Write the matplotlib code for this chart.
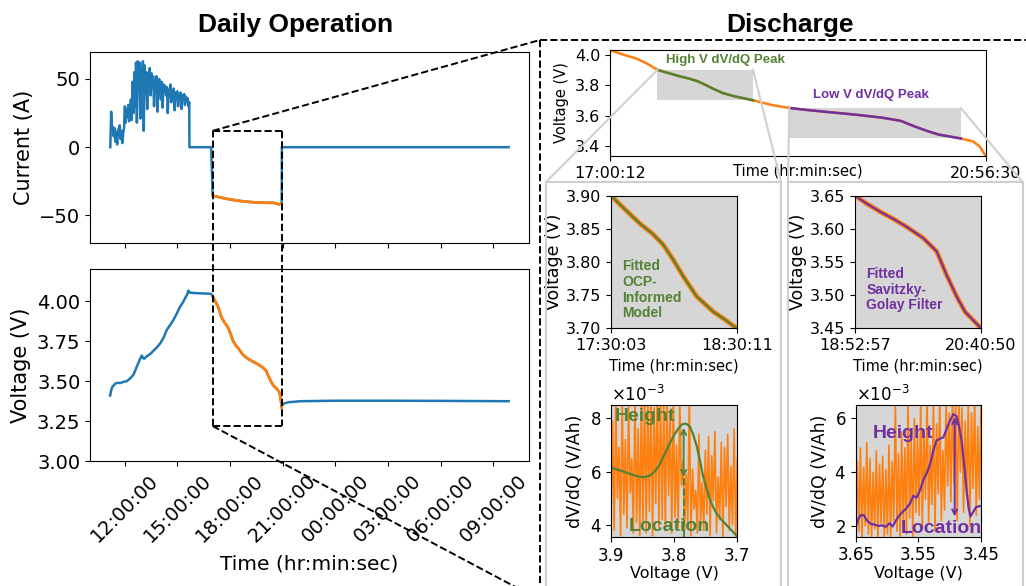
import numpy as np
import matplotlib
matplotlib.use('Agg')
import matplotlib.pyplot as plt
import matplotlib.dates as mdates
from matplotlib.lines import Line2D
from matplotlib.ticker import MultipleLocator, FormatStrFormatter
from datetime import datetime, timedelta

W, H = 1026, 586
BLUE = '#1f77b4'
ORANGE = '#ff7f0e'
GREEN = '#548235'
PURPLE = '#7030a0'
GREY = '#d6d6d6'
BOLD = ['Liberation Sans', 'DejaVu Sans']

# ---------------- data (hours since midnight of day 1) ----------------
# charging current, ~3 min samples from 11:10 to 15:40
chg_start, chg_end = 11.17, 15.67
chg_current = [0, 26, 12, 15, 8, 14, 4, 11, 2, 13, 9, 16, 6, 12, 3, 10, 14,
               30, 18, 28, 22, 31, 19, 27, 35, 20,
               48, 25, 55, 30, 62, 18, 63, 42, 62, 21,
               58, 50, 63, 12, 60, 45, 55, 28, 52,
               47, 58, 38, 54, 44, 52, 30, 49, 45, 52, 26, 47, 50, 44,
               35, 48, 29, 46, 41, 45, 38, 44, 25, 42, 39, 46, 33, 41,
               37, 43, 27, 40, 38, 41, 30, 39, 36, 40, 28, 38, 35, 39, 31,
               37, 34, 36, 30, 33]
rest1_hours = [15.68, 16.92]
rest1_current = [0, 0]
dis_cur_hours = [17.0033, 17.5, 18.0, 18.5, 19.0, 19.5, 20.0, 20.5, 20.7, 20.8, 20.9, 20.9417]
dis_current = [-35.5, -37.0, -38.3, -39.3, -40.0, -40.5, -40.7, -40.8, -41.5, -42.0, -41.3, -41.5]
rest2_hours = [20.95, 33.88]
rest2_current = [0, 0]

chg_v_hours = [11.16, 11.26, 11.45, 11.6, 11.73, 11.9, 12.11, 12.30, 12.49, 12.68, 12.87,
               12.97, 13.03, 13.10, 13.25, 13.45, 13.63, 13.82, 14.01, 14.2, 14.39, 14.58,
               14.76, 14.95, 15.15, 15.30, 15.43, 15.55, 15.62, 15.71, 16.0, 16.28, 16.6, 16.91]
chg_voltage = [3.41, 3.46, 3.485, 3.49, 3.488, 3.495, 3.50, 3.517, 3.54, 3.59, 3.64,
               3.66, 3.645, 3.64, 3.655, 3.67, 3.69, 3.71, 3.735, 3.77, 3.82, 3.85,
               3.88, 3.92, 3.965, 3.99, 4.017, 4.04, 4.065, 4.052, 4.05, 4.048, 4.047, 4.045]

dis_hours = [17.0033, 17.14, 17.28, 17.40, 17.5008, 17.62, 17.731, 17.83, 17.918, 17.998,
             18.078, 18.184, 18.317, 18.41, 18.5031, 18.71, 18.8825, 19.05, 19.239, 19.43,
             19.620, 19.857, 20.048, 20.191, 20.333, 20.452, 20.571, 20.6806, 20.81, 20.88,
             20.9417]
dis_voltage = [4.030, 4.000, 3.974, 3.938, 3.900, 3.878, 3.858, 3.843, 3.826, 3.803,
               3.778, 3.748, 3.725, 3.713, 3.700, 3.668, 3.650, 3.638, 3.626, 3.615,
               3.603, 3.586, 3.566, 3.530, 3.498, 3.475, 3.462, 3.450, 3.430, 3.397,
               3.335]

rest_v_hours = [20.95, 21.05, 21.3, 22.0, 24.0, 27.0, 30.0, 33.88]
rest_voltage = [3.345, 3.36, 3.368, 3.375, 3.378, 3.378, 3.377, 3.375]

hi_win = (17.5008, 18.5031)   # 17:30:03 - 18:30:11
lo_win = (18.8825, 20.6806)   # 18:52:57 - 20:40:50
hi_vlim = (3.70, 3.90)
lo_vlim = (3.45, 3.65)

# dV/dQ noisy data (x1e-3 V/Ah), sampled over the voltage windows
hi_dvdq_raw = [4.2, 7.9, 3.8, 8.6, 5.0, 6.9, 3.6, 8.8, 4.4, 7.2, 3.9, 8.5, 5.2, 6.5, 3.7, 9.0, 4.1, 7.6, 3.6, 8.7,
               4.0, 9.1, 3.7, 8.8, 4.5, 9.0, 3.6, 8.4, 4.8, 9.2, 3.9, 8.9, 4.2, 8.6, 3.8, 9.0, 5.1, 8.3, 3.7, 8.8,
               4.3, 7.0, 3.9, 8.7, 5.5, 6.4, 3.8, 5.9, 4.1, 8.9, 3.6, 6.1, 4.6, 5.3, 3.7, 7.4, 4.0, 5.6, 3.8, 6.8,
               4.4, 7.3, 3.6, 6.6, 4.9, 7.5, 3.7, 5.8, 4.2, 7.1, 3.5, 6.9, 4.7, 7.4, 3.8, 6.2, 4.0, 7.6, 3.6, 6.5]
lo_dvdq_raw = [1.6, 4.4, 1.8, 4.9, 1.5, 4.2, 2.0, 5.1, 1.7, 4.5, 1.6, 4.0, 1.9, 4.8, 1.5, 4.3, 2.1, 4.6, 1.6, 4.1,
               1.7, 5.0, 1.6, 4.4, 2.2, 6.6, 1.8, 4.7, 1.5, 5.5, 2.0, 4.9, 1.7, 6.7, 2.3, 5.2, 1.6, 6.0, 2.5, 5.4,
               2.4, 6.7, 1.9, 5.6, 3.0, 6.8, 2.1, 5.0, 2.8, 6.6, 1.8, 5.8, 3.2, 6.9, 2.2, 4.8, 2.6, 6.7, 3.5, 6.2,
               2.9, 6.8, 3.6, 6.6, 2.2, 6.9, 4.0, 6.4, 2.5, 5.9, 3.1, 6.7, 2.0, 6.2, 3.4, 6.8, 2.4, 5.7, 3.0, 6.6]

hi_fit_v = [3.900, 3.890, 3.880, 3.868, 3.855, 3.846, 3.838, 3.830, 3.822, 3.815, 3.807, 3.800,
            3.793, 3.787, 3.781, 3.775, 3.770, 3.764, 3.759, 3.754, 3.748, 3.743, 3.738, 3.733,
            3.725, 3.717, 3.708, 3.700]
hi_fit = [6.16, 6.08, 6.00, 5.90, 5.81, 5.80, 5.86, 6.02, 6.31, 6.66, 7.06, 7.38,
          7.63, 7.78, 7.80, 7.69, 7.40, 6.94, 6.40, 5.81, 5.33, 4.94, 4.66, 4.44,
          4.20, 4.00, 3.78, 3.56]
lo_fit_v = [3.650, 3.646, 3.642, 3.637, 3.632, 3.626, 3.620, 3.614, 3.608, 3.602, 3.596, 3.591,
            3.586, 3.580, 3.574, 3.569, 3.563, 3.558, 3.553, 3.547, 3.542, 3.536, 3.531, 3.526,
            3.521, 3.515, 3.510, 3.505, 3.500, 3.494, 3.489, 3.485, 3.481, 3.477, 3.473, 3.470,
            3.467, 3.463, 3.458, 3.450]
lo_fit = [1.95, 2.25, 2.40, 2.40, 2.20, 2.08, 2.05, 2.00, 2.02, 1.97, 2.10, 1.98,
          2.20, 2.40, 2.55, 2.66, 2.85, 3.12, 3.05, 3.35, 3.71, 4.00, 4.32, 4.80,
          5.18, 5.25, 5.30, 5.60, 5.90, 6.16, 6.08, 5.70, 5.18, 4.30, 3.34, 2.70,
          2.35, 2.50, 2.70, 2.75]
hi_peak = (3.785, 7.65, 5.80)   # location, arrow top, arrow bottom
lo_peak = (3.492, 6.05, 2.35)

# ---------------- helpers ----------------
day0 = datetime(2023, 6, 1)


def to_time(hours):
    # whole seconds, so the tick labels read e.g. 17:00:12
    return [day0 + timedelta(seconds=round(float(h) * 3600)) for h in hours]


fig = plt.figure(figsize=(W / 100, H / 100), dpi=100)


def add_ax(l, t, r, b):
    return fig.add_axes([l / W, 1 - b / H, (r - l) / W, (b - t) / H])


def px(x, y):
    return (x / W, 1 - y / H)


def to_fig(ax, x, y):
    return fig.transFigure.inverted().transform(ax.transData.transform((x, y)))


def fig_line(p0, p1, **kw):
    fig.add_artist(Line2D([p0[0], p1[0]], [p0[1], p1[1]], transform=fig.transFigure, **kw))


# ---------------- left: daily operation ----------------
cur_hours = list(np.linspace(chg_start, chg_end, len(chg_current))) + rest1_hours + dis_cur_hours + rest2_hours
cur_vals = chg_current + rest1_current + dis_current + rest2_current
volt_hours = chg_v_hours + dis_hours + rest_v_hours
volt_vals = chg_voltage + dis_voltage + rest_voltage

ax_i = add_ax(90.2, 51.7, 528.6, 242.7)
ax_i.plot(to_time(cur_hours), cur_vals, color=BLUE, lw=1.8)
ax_i.plot(to_time(dis_cur_hours), dis_current, color=ORANGE, lw=2)
ax_i.set_ylim(-70, 70)
ax_i.yaxis.set_major_locator(MultipleLocator(50))
ax_i.set_ylabel('Current (A)', fontsize=15)
ax_i.tick_params(labelsize=14)

ax_v = add_ax(90.2, 269, 528.6, 461.3)
ax_v.plot(to_time(volt_hours), volt_vals, color=BLUE, lw=1.8)
ax_v.plot(to_time(dis_hours), dis_voltage, color=ORANGE, lw=2)
ax_v.set_ylim(3.0, 4.2)
ax_v.yaxis.set_major_locator(MultipleLocator(0.25))
ax_v.yaxis.set_major_formatter(FormatStrFormatter('%.2f'))
ax_v.set_ylabel('Voltage (V)', fontsize=15)
ax_v.set_xlabel('Time (hr:min:sec)', fontsize=14.5, labelpad=6)
ax_v.tick_params(labelsize=14)

for ax in (ax_i, ax_v):
    ax.set_xlim(ax_v.get_xlim())
    ax.xaxis.set_major_locator(mdates.HourLocator(byhour=range(0, 24, 3)))
    ax.xaxis.set_major_formatter(mdates.DateFormatter('%H:%M:%S'))
ax_i.tick_params(axis='x', labelbottom=False)
plt.setp(ax_v.get_xticklabels(), rotation=45)

# ---------------- right: discharge overview ----------------
dis_t = np.array(dis_hours)
dis_vv = np.array(dis_voltage)
hi_mask = (dis_t >= hi_win[0]) & (dis_t <= hi_win[1])
lo_mask = (dis_t >= lo_win[0]) & (dis_t <= lo_win[1])

ax_d = add_ax(610, 50, 985.7, 156)
ax_d.fill_between(to_time(hi_win), hi_vlim[0], hi_vlim[1], color=GREY, lw=0)
ax_d.fill_between(to_time(lo_win), lo_vlim[0], lo_vlim[1], color=GREY, lw=0)
ax_d.plot(to_time(dis_t), dis_vv, color=ORANGE, lw=1.8)
ax_d.plot(to_time(dis_t[hi_mask]), dis_vv[hi_mask], color=GREEN, lw=1.8)
ax_d.plot(to_time(dis_t[lo_mask]), dis_vv[lo_mask], color=PURPLE, lw=1.8)
ax_d.set_xlim(to_time([dis_t[0], dis_t[-1]]))
ax_d.set_ylim(dis_vv.min(), dis_vv.max())
ax_d.set_xticks(to_time([dis_t[0], dis_t[-1]]))
ax_d.xaxis.set_major_formatter(mdates.DateFormatter('%H:%M:%S'))
ax_d.yaxis.set_major_locator(MultipleLocator(0.2))
ax_d.yaxis.set_major_formatter(FormatStrFormatter('%.1f'))
ax_d.tick_params(labelsize=11.5)
ax_d.set_ylabel('Voltage (V)', fontsize=10.5)
ax_d.set_xlabel('Time (hr:min:sec)', fontsize=10.5)
ax_d.xaxis.set_label_coords(0.5, -0.075)
ax_d.text(to_time([17.59])[0], 3.963, 'High V dV/dQ Peak', color=GREEN, fontsize=9.5,
          weight='bold', family=BOLD, va='center')
ax_d.text(to_time([19.13])[0], 3.734, 'Low V dV/dQ Peak', color=PURPLE, fontsize=9.5,
          weight='bold', family=BOLD, va='center')

# ---------------- right: zoomed voltage windows ----------------
ax_hv = add_ax(611, 195.7, 736.7, 328.3)
ax_lv = add_ax(855, 195.7, 981, 328.3)
for ax, mask, win, vlim, col, label in (
        (ax_hv, hi_mask, hi_win, hi_vlim, GREEN, 'Fitted\nOCP-\nInformed\nModel'),
        (ax_lv, lo_mask, lo_win, lo_vlim, PURPLE, 'Fitted\nSavitzky-\nGolay Filter')):
    ax.set_facecolor(GREY)
    ax.plot(to_time(dis_t[mask]), dis_vv[mask], color=ORANGE, lw=3.5)
    ax.plot(to_time(dis_t[mask]), dis_vv[mask], color=col, lw=1.5)
    ax.set_xlim(to_time(win))
    ax.set_ylim(vlim)
    ax.set_xticks(to_time(win))
    ax.xaxis.set_major_formatter(mdates.DateFormatter('%H:%M:%S'))
    ax.yaxis.set_major_locator(MultipleLocator(0.05))
    ax.yaxis.set_major_formatter(FormatStrFormatter('%.2f'))
    ax.tick_params(labelsize=11.5)
    ax.set_ylabel('Voltage (V)', fontsize=12.5, labelpad=2)
    ax.set_xlabel('Time (hr:min:sec)', fontsize=10.5)
    ax.text(0.09, 0.29, label, transform=ax.transAxes, color=col, fontsize=10,
            weight='bold', family=BOLD, va='center', linespacing=1.15)

# ---------------- right: dV/dQ panels ----------------
ax_hq = add_ax(611, 405, 737.3, 537.3)
ax_lq = add_ax(855.7, 405, 981, 536.7)
for ax, raw, vlim, fv, fy, peak, col, ylim, hpos, lpos, ticks in (
        (ax_hq, hi_dvdq_raw, hi_vlim, hi_fit_v, hi_fit, hi_peak, GREEN, (3.54e-3, 8.5e-3),
         (0.03, 0.91), (0.14, 0.08), [3.9, 3.8, 3.7]),
        (ax_lq, lo_dvdq_raw, lo_vlim, lo_fit_v, lo_fit, lo_peak, PURPLE, (1.6e-3, 6.5e-3),
         (0.136, 0.787), (0.36, 0.06), [3.65, 3.55, 3.45])):
    ax.set_facecolor(GREY)
    raw_v = np.linspace(vlim[1], vlim[0], len(raw))
    ax.plot(raw_v, np.array(raw) * 1e-3, color=ORANGE, lw=1.2)
    ax.plot(fv, np.array(fy) * 1e-3, color=col, lw=1.6)
    ax.annotate('', xy=(peak[0], peak[1] * 1e-3), xytext=(peak[0], peak[2] * 1e-3),
                arrowprops=dict(arrowstyle='<->', color=col, lw=1.4, mutation_scale=9,
                                shrinkA=0, shrinkB=0))
    ax.set_xlim(vlim[1], vlim[0])
    ax.set_ylim(ylim)
    ax.set_xticks(ticks)
    ax.yaxis.set_major_locator(MultipleLocator(2e-3))
    ax.ticklabel_format(axis='y', style='sci', scilimits=(0, 0), useMathText=True)
    ax.yaxis.get_offset_text().set_fontsize(12)
    ax.tick_params(labelsize=12)
    ax.set_ylabel('dV/dQ (V/Ah)', fontsize=12.5)
    ax.set_xlabel('Voltage (V)', fontsize=11.5, labelpad=1)
    ax.text(hpos[0], hpos[1], 'Height', transform=ax.transAxes, color=col, fontsize=14,
            weight='bold', family=BOLD, va='center')
    ax.text(lpos[0], lpos[1], 'Location', transform=ax.transAxes, color=col, fontsize=14,
            weight='bold', family=BOLD, va='center')
ax_hq.plot([hi_peak[0], hi_peak[0]], [3.54e-3, hi_peak[2] * 1e-3], color=GREEN, lw=1.4, ls='--')

# ---------------- titles ----------------
fig.text(296 / W, 1 - 31.7 / H, 'Daily Operation', ha='center', va='baseline', fontsize=19,
         weight='bold', family=BOLD)
fig.text(790 / W, 1 - 31.7 / H, 'Discharge', ha='center', va='baseline', fontsize=19,
         weight='bold', family=BOLD)

# ---------------- zoom / connector decorations ----------------
t0, t1 = mdates.date2num(to_time([dis_hours[0], dis_hours[-1]]))
box_tl = to_fig(ax_i, t0, 12)
box_tr = to_fig(ax_i, t1, 12)
box_bl = to_fig(ax_v, t0, 3.22)
box_br = to_fig(ax_v, t1, 3.22)
dash = dict(color='black', lw=1.4, ls='--')
fig_line(box_tl, box_tr, **dash)
fig_line(box_tr, box_br, **dash)
fig_line(box_br, box_bl, **dash)
fig_line(box_bl, box_tl, **dash)
fig_line(box_tl, px(540, 40), **dash)
fig_line(box_bl, px(540, 600), **dash)
fig_line(px(540, 40), px(540, 600), **dash)
fig_line(px(540, 40), px(1030, 40), **dash)

gline = dict(color='#cfcfcf', lw=1.5)
h0, h1 = mdates.date2num(to_time(hi_win))
l0, l1 = mdates.date2num(to_time(lo_win))
for (xa, xb, vtop), (xl, xr) in (((h0, h1, hi_vlim[1]), (546, 781)),
                                 ((l0, l1, lo_vlim[1]), (788, 1022.5))):
    fig_line(to_fig(ax_d, xa, vtop), px(xl, 182), **gline)
    fig_line(to_fig(ax_d, xb, vtop), px(xr, 182), **gline)
    fig_line(px(xl, 182), px(xr, 182), **gline)
    fig_line(px(xl, 182), px(xl, 600), **gline)
    fig_line(px(xr, 182), px(xr, 600), **gline)

fig.savefig('out.png', dpi=100)
